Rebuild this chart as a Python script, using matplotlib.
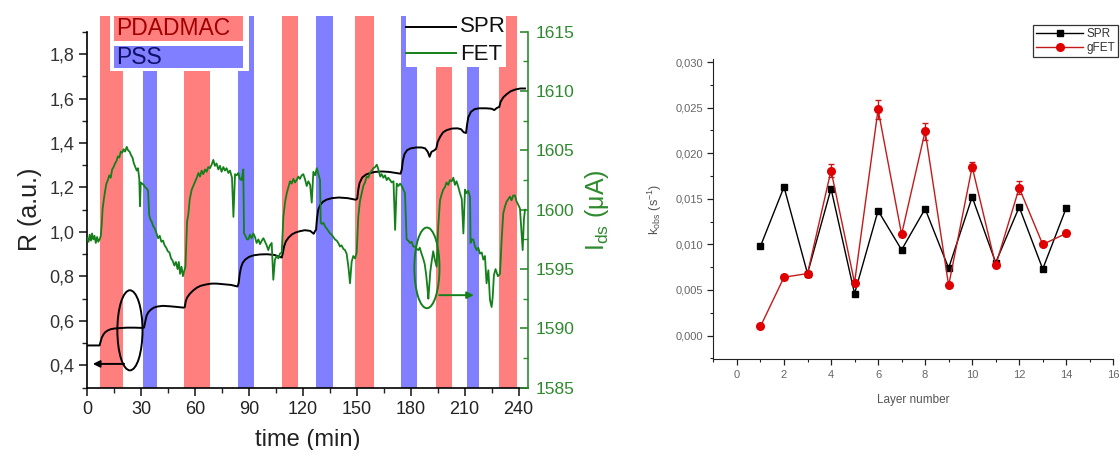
import matplotlib
matplotlib.use("Agg")
import matplotlib.pyplot as plt
from matplotlib.patches import Rectangle, Ellipse
from matplotlib.lines import Line2D
from matplotlib.ticker import MultipleLocator, FuncFormatter

plt.rcParams['font.family'] = ['Liberation Sans', 'DejaVu Sans']

# deposition steps (start, end in min)
pdadmac_steps = [(7, 20), (54, 68.5), (108.5, 117.5), (149, 159.5), (194, 203), (229, 239)]
pss_steps = [(31, 39), (84, 93), (127, 136.5), (174.5, 183.5), (211.5, 218)]

# SPR reflectivity trace
spr_t = [0, 6.8, 7.3, 8, 9, 10, 11.5, 13, 15, 18, 22, 26, 30, 31.5, 32.3, 33, 34, 35.5, 37, 39,
         42, 46, 50, 53.5, 54.2, 54.8, 55.5, 57, 59, 61, 63, 66, 69, 72, 76, 80, 83.6, 84.2, 84.8,
         85.5, 86.5, 88, 90, 92.5, 96, 100, 104, 108.2, 108.8, 109.5, 110.5, 112, 114, 116, 118,
         121, 124, 126, 126.8, 127.3, 127.8, 128.5, 129.5, 131, 133, 136, 140, 145, 149.4, 150.2,
         150.8, 151.5, 153, 155, 157.5, 160, 164, 168, 172, 174.3, 175, 175.6, 176.5, 178, 180,
         183, 186, 188, 189.5, 190.5, 191.5, 193.3, 194.2, 195, 196.5, 198, 200, 203, 206, 208,
         209.5, 210.8, 211.3, 212, 213.5, 215.5, 218, 222, 225, 226.5, 228, 229.3, 230, 231.5,
         233.5, 235.5, 238, 241, 243.6]
spr_r = [0.490, 0.490, 0.505, 0.525, 0.540, 0.550, 0.558, 0.563, 0.566, 0.568, 0.570, 0.570,
         0.569, 0.570, 0.600, 0.625, 0.640, 0.652, 0.660, 0.665, 0.668, 0.666, 0.663, 0.660,
         0.662, 0.690, 0.705, 0.722, 0.738, 0.750, 0.758, 0.764, 0.768, 0.768, 0.765, 0.762,
         0.755, 0.770, 0.810, 0.840, 0.862, 0.877, 0.888, 0.895, 0.899, 0.900, 0.897, 0.885,
         0.905, 0.935, 0.958, 0.975, 0.990, 0.998, 1.003, 1.008, 1.005, 0.992, 1.005, 1.010,
         1.060, 1.100, 1.120, 1.135, 1.145, 1.152, 1.155, 1.152, 1.145, 1.150, 1.190, 1.220,
         1.245, 1.258, 1.265, 1.270, 1.272, 1.270, 1.265, 1.262, 1.280, 1.320, 1.350, 1.368,
         1.376, 1.380, 1.380, 1.376, 1.360, 1.338, 1.360, 1.368, 1.375, 1.405, 1.430, 1.448,
         1.458, 1.465, 1.466, 1.462, 1.448, 1.445, 1.480, 1.515, 1.540, 1.552, 1.556, 1.556,
         1.554, 1.548, 1.558, 1.562, 1.585, 1.605, 1.620, 1.632, 1.640, 1.645, 1.645]

# graphene FET drain current, (min, uA)
fet_points = [
    (0.0, 1597.6), (0.7, 1597.3), (1.3, 1597.9), (2.0, 1597.4), (2.6, 1598.0), (3.3, 1597.5),
    (4.0, 1597.8), (4.7, 1597.2), (5.4, 1597.7), (6.1, 1597.3), (6.8, 1597.5), (7.5, 1597.8),
    (8.0, 1598.8), (8.5, 1600.1), (9.2, 1600.9), (9.9, 1601.6), (10.6, 1602.2), (11.4, 1602.5),
    (12.2, 1602.9), (13.0, 1602.7), (13.8, 1603.4), (14.6, 1603.6), (15.4, 1603.9), (16.2, 1604.1),
    (17.0, 1604.5), (17.8, 1604.4), (18.6, 1604.9), (19.4, 1604.8), (20.2, 1605.1), (21.0, 1604.9),
    (21.9, 1605.3), (22.7, 1605.0), (23.5, 1604.9), (24.3, 1604.6), (25.1, 1604.4), (25.9, 1603.9),
    (26.7, 1603.6), (27.5, 1603.3), (28.2, 1603.5), (28.9, 1602.6), (29.3, 1600.3), (29.7, 1602.3),
    (30.5, 1602.2), (31.3, 1602.1), (32.1, 1601.9), (33.0, 1601.8), (33.8, 1601.6), (34.4, 1599.6),
    (35.0, 1599.2), (35.8, 1599.0), (36.7, 1598.6), (37.6, 1598.4), (38.5, 1598.0), (39.4, 1597.6),
    (40.3, 1597.8), (41.2, 1597.3), (42.1, 1597.4), (43.0, 1597.0), (43.9, 1596.8), (44.8, 1596.5),
    (45.7, 1596.4), (46.6, 1595.9), (47.5, 1595.7), (48.4, 1595.3), (49.3, 1595.6), (50.2, 1595.0),
    (50.9, 1595.6), (51.6, 1594.6), (52.4, 1595.2), (53.2, 1594.4), (54.0, 1594.9), (54.6, 1595.2),
    (55.0, 1597.0), (55.5, 1599.0), (56.2, 1599.6), (57.0, 1600.9), (58.1, 1601.7), (59.2, 1602.1),
    (60.3, 1602.5), (60.9, 1602.7), (61.8, 1603.1), (62.7, 1602.8), (63.6, 1603.3), (64.5, 1603.0),
    (65.5, 1603.4), (66.4, 1603.2), (67.3, 1603.6), (68.2, 1603.5), (69.2, 1603.8), (70.1, 1604.2),
    (71.0, 1603.7), (71.9, 1603.9), (72.9, 1603.4), (73.8, 1603.7), (74.7, 1603.2), (75.7, 1603.6),
    (76.6, 1603.3), (77.5, 1603.5), (78.5, 1603.1), (79.4, 1603.3), (80.5, 1602.7), (81.3, 1599.4),
    (82.2, 1603.0), (83.1, 1602.9), (84.0, 1603.1), (84.9, 1602.6), (85.9, 1602.5), (86.8, 1603.4),
    (87.2, 1598.0), (88.0, 1597.8), (88.8, 1597.5), (89.6, 1597.5), (90.5, 1597.9), (91.4, 1597.6),
    (92.4, 1598.0), (93.3, 1597.7), (94.2, 1597.2), (95.2, 1597.5), (96.1, 1597.1), (97.1, 1597.4),
    (98.0, 1597.6), (98.9, 1597.3), (99.8, 1597.0), (100.7, 1596.6), (101.6, 1597.0), (102.6, 1597.2),
    (103.5, 1594.1), (104.4, 1595.8), (105.4, 1596.1), (106.3, 1595.9), (107.2, 1596.3), (108.2, 1596.4),
    (109.1, 1599.4), (110.0, 1600.6), (111.0, 1601.4), (111.9, 1601.9), (112.8, 1602.4), (113.7, 1602.2),
    (114.7, 1602.6), (115.6, 1602.3), (116.5, 1602.5), (117.4, 1602.8), (118.3, 1602.6), (119.3, 1602.9),
    (120.2, 1603.0), (121.1, 1602.6), (122.1, 1602.0), (123.0, 1602.4), (124.0, 1602.1), (124.9, 1600.6),
    (125.8, 1603.2), (126.8, 1602.9), (127.7, 1603.5), (128.6, 1603.0), (129.5, 1602.5),
    (129.9, 1598.9), (130.6, 1598.8), (131.4, 1598.9), (132.3, 1598.6), (133.3, 1598.4), (134.2, 1598.2),
    (135.1, 1598.0), (136.0, 1597.9), (136.9, 1597.7), (137.8, 1597.5), (138.8, 1597.4), (139.7, 1597.2),
    (140.6, 1596.9), (141.5, 1597.0), (142.5, 1596.7), (143.4, 1596.6), (144.3, 1596.3), (145.3, 1595.2),
    (146.2, 1593.8), (147.1, 1595.6), (148.0, 1596.1), (149.0, 1595.9), (149.9, 1596.4),
    (150.8, 1599.4), (151.7, 1600.7), (152.7, 1601.4), (153.6, 1602.0), (154.5, 1602.3), (155.5, 1602.8),
    (156.4, 1602.7), (157.3, 1603.1), (158.3, 1603.3), (159.2, 1603.5), (160.2, 1603.6), (161.1, 1603.8),
    (162.0, 1603.4), (163.0, 1602.8), (163.8, 1603.0), (164.8, 1602.7), (165.7, 1602.9), (166.6, 1602.5),
    (167.5, 1602.7), (168.5, 1602.5), (169.4, 1602.3), (170.4, 1602.4), (171.3, 1598.3), (172.2, 1602.2),
    (173.1, 1602.0), (174.1, 1602.2), (175.0, 1602.0), (175.9, 1601.7), (176.8, 1601.4),
    (177.7, 1597.5), (178.6, 1597.4), (179.6, 1597.2), (180.5, 1597.3), (181.4, 1596.9), (182.4, 1596.9),
    (183.3, 1596.7), (184.2, 1596.6), (185.0, 1596.8), (186.0, 1596.3), (186.9, 1595.9), (187.8, 1595.4),
    (188.6, 1594.5), (189.3, 1593.4), (189.8, 1592.5), (190.3, 1593.6), (190.9, 1594.8), (191.6, 1595.6),
    (192.5, 1596.5), (193.4, 1595.8), (194.4, 1595.2),
    (195.3, 1598.6), (196.3, 1600.8), (197.2, 1601.3), (198.1, 1601.7), (199.0, 1601.9), (199.9, 1602.3),
    (200.9, 1602.1), (201.8, 1602.5), (202.8, 1602.4), (203.7, 1602.7), (204.6, 1602.1), (205.5, 1602.4),
    (206.5, 1601.9), (207.4, 1601.4), (208.4, 1600.9), (209.3, 1598.0), (210.2, 1601.7), (211.1, 1601.4),
    (212.0, 1601.6), (213.0, 1601.1),
    (213.3, 1597.2), (214.0, 1597.5), (214.8, 1597.5), (215.8, 1596.9), (216.7, 1596.6), (217.6, 1596.8),
    (218.5, 1596.3), (219.5, 1596.4), (220.4, 1595.8), (221.3, 1596.1), (222.2, 1593.8), (223.2, 1594.9),
    (224.1, 1592.4), (225.0, 1591.8), (225.6, 1592.6), (226.3, 1594.5), (227.2, 1595.0), (228.5, 1594.4),
    (229.7, 1594.6),
    (230.6, 1597.5), (231.5, 1599.7), (232.5, 1600.3), (233.4, 1600.7), (234.3, 1600.9), (235.2, 1601.1),
    (236.1, 1600.8), (237.0, 1601.2), (238.0, 1601.2), (238.9, 1600.7), (239.9, 1600.4), (240.8, 1600.1),
    (241.7, 1598.0), (242.3, 1596.6), (243.0, 1599.2), (243.6, 1600.0),
]
fet_t = [p[0] for p in fet_points]
fet_i = [p[1] for p in fet_points]

# adsorption rate constants per layer
layers = list(range(1, 15))
k_spr = [0.0098, 0.0163, 0.0068, 0.0161, 0.0046, 0.0137, 0.0094, 0.0139, 0.0074, 0.0152,
         0.0080, 0.0141, 0.0073, 0.0140]
k_fet = [0.0010, 0.0064, 0.0068, 0.0181, 0.0058, 0.0248, 0.0111, 0.0224, 0.0055, 0.0185,
         0.0077, 0.0162, 0.0100, 0.0112]
k_fet_err = [0.0002, 0.0002, 0.0002, 0.0007, 0.0003, 0.0010, 0.0002, 0.0009, 0.0002, 0.0005,
             0.0002, 0.0007, 0.0002, 0.0003]

red_band = '#ff7f7f'
blue_band = '#7f7fff'
fet_green = '#13801a'
axis_green = '#2f8a2f'
fet_red = '#c41a1a'

comma = FuncFormatter(lambda v, p: ('%.1f' % v).replace('.', ','))
comma3 = FuncFormatter(lambda v, p: ('%.3f' % v).replace('.', ','))

fig = plt.figure(figsize=(11.2, 4.5), dpi=100)

# ---- left: SPR + FET time traces ----
ax = fig.add_axes([0.078, 0.1384, 0.393, 0.791])
ax2 = ax.twinx()

for a, b in pdadmac_steps:
    ax.axvspan(a, b, ymin=0, ymax=1.044, color=red_band, lw=0, clip_on=False, zorder=0)
for a, b in pss_steps:
    ax.axvspan(a, b, ymin=0, ymax=1.044, color=blue_band, lw=0, clip_on=False, zorder=0)

ax.plot(spr_t, spr_r, color='black', lw=1.4, zorder=3)
ax2.plot(fet_t, fet_i, color=fet_green, lw=1.3, zorder=3)

ax.set_xlim(0, 245)
ax.set_ylim(0.3, 1.9)
ax2.set_ylim(1585, 1615)

ax.xaxis.set_major_locator(MultipleLocator(30))
ax.xaxis.set_minor_locator(MultipleLocator(15))
ax.yaxis.set_major_locator(MultipleLocator(0.2))
ax.yaxis.set_minor_locator(MultipleLocator(0.1))
ax.yaxis.set_major_formatter(comma)
ax2.yaxis.set_major_locator(MultipleLocator(5))
ax2.yaxis.set_minor_locator(MultipleLocator(2.5))

for a in (ax, ax2):
    a.spines['top'].set_visible(False)
ax.spines['right'].set_visible(False)
ax2.spines['left'].set_visible(False)
ax2.spines['bottom'].set_visible(False)
ax2.spines['right'].set_color(axis_green)
ax.spines['left'].set_linewidth(1.2)
ax.spines['bottom'].set_linewidth(1.2)
ax2.spines['right'].set_linewidth(1.2)

ax.tick_params(which='major', length=6, width=1.2, labelsize=13, colors='#222222')
ax.tick_params(which='minor', length=3.5, width=1.0, colors='#222222')
ax.tick_params(axis='y', labelcolor='#333333')
ax2.tick_params(which='major', direction='in', length=6, width=1.2, labelsize=12.5,
                colors=axis_green, pad=6)
ax2.tick_params(which='minor', direction='in', length=3.5, width=1.0, colors=axis_green)

ax.set_xlabel('time (min)', fontsize=17, labelpad=8, color='#222222')
ax.set_ylabel('R (a.u.)', fontsize=18, labelpad=5, color='#222222')
ax2.set_ylabel(r'$\mathregular{I_{ds}}$ (μA)', fontsize=18, labelpad=6, color=axis_green)

# curve markers: SPR to the left axis, FET to the right axis
ax.add_patch(Ellipse((23.7, 0.558), 14, 0.36, fill=False, ec='black', lw=1.4, zorder=4))
ax.annotate('', xy=(1.5, 0.407), xytext=(22, 0.407),
            arrowprops=dict(arrowstyle='-|>', color='black', lw=1.4, mutation_scale=10), zorder=4)
ax2.add_patch(Ellipse((189, 1595.1), 14, 6.8, fill=False, ec=fet_green, lw=1.4, zorder=4))
ax2.annotate('', xy=(216.7, 1592.8), xytext=(194.3, 1592.8),
             arrowprops=dict(arrowstyle='-|>', color=fet_green, lw=1.4, mutation_scale=10), zorder=4)

# solution key
fig.add_artist(Rectangle((110 / 1120, 1 - 70.7 / 450), 139 / 1120, 58 / 450,
                         transform=fig.transFigure, fc='white', ec='none', zorder=5))
fig.add_artist(Rectangle((114 / 1120, 1 - 40.7 / 450), 129 / 1120, 24.7 / 450,
                         transform=fig.transFigure, fc=red_band, ec='none', zorder=6))
fig.add_artist(Rectangle((114 / 1120, 1 - 68.3 / 450), 129 / 1120, 22.6 / 450,
                         transform=fig.transFigure, fc=blue_band, ec='none', zorder=6))
fig.text(116 / 1120, 1 - 28.5 / 450, 'PDADMAC', fontsize=16.5, color='#a00000',
         va='center', ha='left', zorder=7)
fig.text(116 / 1120, 1 - 57 / 450, 'PSS', fontsize=16.5, color='#10106a',
         va='center', ha='left', zorder=7)

# trace key
fig.add_artist(Rectangle((406 / 1120, 1 - 67 / 450), 100 / 1120, 55 / 450,
                         transform=fig.transFigure, fc='white', ec='none', zorder=5))
fig.add_artist(Line2D([406 / 1120, 456 / 1120], [1 - 26.7 / 450] * 2,
                      transform=fig.transFigure, color='black', lw=1.4, zorder=6))
fig.add_artist(Line2D([406 / 1120, 456 / 1120], [1 - 53.3 / 450] * 2,
                      transform=fig.transFigure, color=fet_green, lw=1.4, zorder=6))
fig.text(460 / 1120, 1 - 27 / 450, 'SPR', fontsize=16, color='#111111', va='center', zorder=7)
fig.text(460 / 1120, 1 - 54 / 450, 'FET', fontsize=16, color='#111111', va='center', zorder=7)

# ---- right: rate constants per layer ----
bx = fig.add_axes([0.637, 0.2016, 0.357, 0.6667])
bx.plot(layers, k_spr, color='black', lw=1.0, marker='s', ms=5, zorder=3)
bx.errorbar(layers, k_fet, yerr=k_fet_err, color=fet_red, mfc='#e00000', mec='#e00000',
            lw=1.0, marker='o', ms=5.5, capsize=2, elinewidth=1.0, zorder=4)
bx.set_xlim(-1, 16)
bx.set_ylim(-0.0026, 0.0303)
bx.xaxis.set_major_locator(MultipleLocator(2))
bx.xaxis.set_minor_locator(MultipleLocator(1))
bx.yaxis.set_major_locator(MultipleLocator(0.005))
bx.yaxis.set_minor_locator(MultipleLocator(0.0025))
bx.yaxis.set_major_formatter(comma3)
bx.spines['top'].set_visible(False)
bx.spines['right'].set_visible(False)
for s in ('left', 'bottom'):
    bx.spines[s].set_color('#222222')
bx.tick_params(which='major', length=4, width=0.9, labelsize=8, colors='#222222', labelcolor='#666666')
bx.tick_params(which='minor', length=2, width=0.8, colors='#222222')
bx.set_xlabel('Layer number', fontsize=8.5, color='#555555', labelpad=10)
bx.set_ylabel(r'$\mathregular{k_{obs}\ (s^{-1})}$', fontsize=9, color='#555555', labelpad=8)

key = [Line2D([], [], color='black', lw=1.0, marker='s', ms=5),
       Line2D([], [], color=fet_red, lw=1.0, marker='o', ms=5.5, mfc='#e00000', mec='#e00000')]
leg = fig.legend(key, ['SPR', 'gFET'], loc='upper left', bbox_to_anchor=(1033 / 1120, 1 - 25 / 450),
                 bbox_transform=fig.transFigure, fontsize=8.5, frameon=True, fancybox=False,
                 edgecolor='black', handlelength=4.0, borderpad=0.25, labelspacing=0.15,
                 handletextpad=0.3, borderaxespad=0)
leg.get_frame().set_linewidth(0.9)
for txt in leg.get_texts():
    txt.set_color('#333333')

fig.savefig('out.png', dpi=100)
